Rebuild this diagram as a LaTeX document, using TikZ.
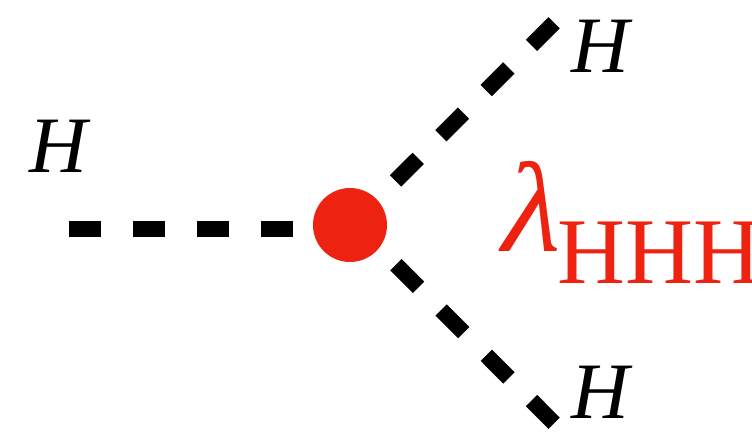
\documentclass[tikz,border=0pt]{standalone}
\usepackage{fontspec}
\setmainfont{Liberation Serif}
\newfontfamily\slantfont[FakeSlant=0.2]{Liberation Serif}
\definecolor{vred}{HTML}{EE2211}
\begin{document}
\begin{tikzpicture}[x=1pt,y=-1pt,
  higgs/.style={line width=16pt,dash pattern=on 32pt off 32pt,line cap=butt},
  hlabel/.style={anchor=base west,inner sep=0pt,font=\fontsize{80}{80}\selectfont\itshape}]
\useasboundingbox (0,0) rectangle (752,432);
\node[circle,fill=vred,minimum size=74pt,inner sep=0pt] (v) at (350,225) {};
\coordinate (l1) at (69,228.7);
\coordinate (l2) at (293,228.7);
\coordinate (u1) at (395.6,180.9);
\coordinate (u2) at (554.1,22.8);
\coordinate (d1) at (395.9,264.6);
\coordinate (d2) at (554.3,423.4);
\draw[higgs] (l1) -- (l2);
\draw[higgs] (u1) -- (u2);
\draw[higgs] (d1) -- (d2);
\node[hlabel] (hl) at (29,172.7) {H};
\node[hlabel] (hu) at (571,72.7) {H};
\node[hlabel] (hd) at (571,418) {H};
\node[anchor=base west,inner sep=0pt,text=vred] (lam) at (495,251.7)
  {{\fontsize{128}{128}\slantfont λ}\raisebox{-32pt}{\fontsize{94}{94}\selectfont HHH}};
\end{tikzpicture}
\end{document}
